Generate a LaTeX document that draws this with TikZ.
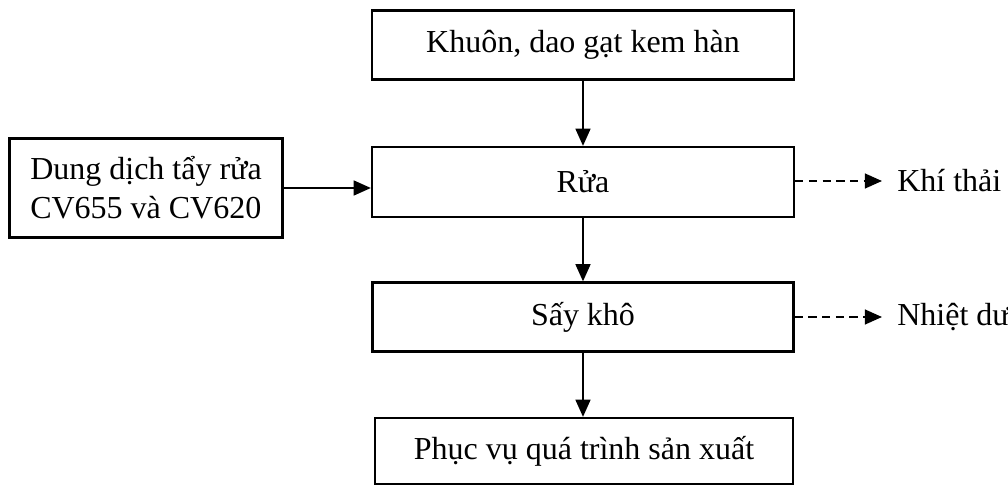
\documentclass[tikz,border=0pt]{standalone}
\usepackage{fontspec}
\setmainfont{Liberation Serif}
\usetikzlibrary{arrows.meta}

\begin{document}
\begin{tikzpicture}[
    x=0.015377cm, y=-0.015377cm,
    proc/.style={draw, line width=1pt, inner sep=2pt, font=\fontsize{14}{17}\selectfont},
    flow/.style={line width=0.8pt, -{Triangle[length=7.5pt,width=6.5pt]}},
    loss/.style={flow, dash pattern=on 3.6pt off 2.4pt},
    olab/.style={anchor=west, inner xsep=6.5pt, font=\fontsize{14}{17}\selectfont},
  ]
  \def\u{0.015377}
  \path[use as bounding box] (0,0) rectangle (1008,486);
  % main line
  \node[proc, minimum width=422*\u cm, minimum height=69*\u cm] (khuon) at (583,45) {Khuôn, dao gạt kem hàn};
  \node[proc, minimum width=422*\u cm, minimum height=70*\u cm] (rua) at (583,182) {Rửa};
  \node[proc, minimum width=421*\u cm, minimum height=69*\u cm] (say) at (583,317) {Sấy khô};
  \node[proc, minimum width=418*\u cm, minimum height=66*\u cm] (phucvu) at (584,451) {Phục vụ quá trình sản xuất};
  % input
  \node[proc, align=left, minimum width=273*\u cm, minimum height=99*\u cm] (dung) at (146,188) {Dung dịch tẩy rửa\\CV655 và CV620};
  % outputs
  \node[olab] (khithai) at (882,181) {Khí thải};
  \node[olab] (nhietdu) at (882,317) {Nhiệt dư};
  \draw[flow] (khuon.south) -- (khuon.south |- rua.north);
  \draw[flow] (rua.south) -- (rua.south |- say.north);
  \draw[flow] (say.south) -- (say.south |- phucvu.north);
  \draw[flow] (dung.east) -- (dung.east -| rua.west);
  \draw[loss] (rua.east |- khithai.west) -- (khithai.west);
  \draw[loss] (say.east |- nhietdu.west) -- (nhietdu.west);
\end{tikzpicture}
\end{document}
